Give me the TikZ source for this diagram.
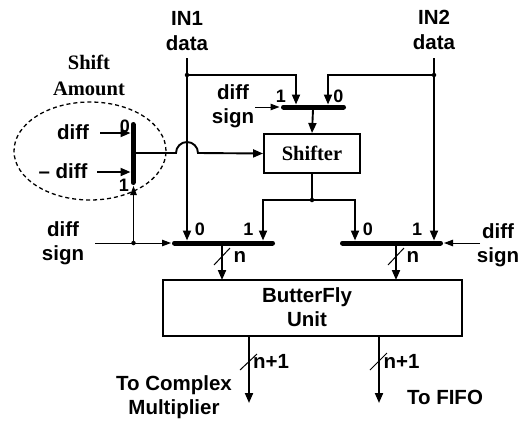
\documentclass[tikz,border=0pt]{standalone}
\usepackage{fontspec}
\setmainfont{Liberation Sans}
\newfontfamily\serifb{Liberation Serif}
\usetikzlibrary{arrows.meta}
\begin{document}
\begin{tikzpicture}[x=1pt,y=-1pt,
  wire/.style={line width=1.9pt},
  thinwire/.style={line width=1pt},
  arr/.style={-{Triangle[length=10pt,width=8pt]}},
  sarr/.style={-{Triangle[length=9pt,width=6.5pt]}},
  bar/.style={line width=5pt, line cap=round},
  lbl/.style={inner sep=0pt, align=center, font=\fontsize{20.5}{24.5}\selectfont\bfseries},
  dig/.style={inner sep=0pt, font=\fontsize{18}{20}\selectfont\bfseries},
  slbl/.style={inner sep=0pt, align=center, font=\fontsize{20.5}{26}\selectfont\serifb\bfseries},
  blk/.style={draw, line width=1.9pt, inner sep=0pt},
  dot/.style={circle, fill, inner sep=0pt, minimum size=4.5pt}
]
\useasboundingbox (0,0) rectangle (527,421);

% ---- labels ----
\node[lbl] (in1) at (187,31) {IN1\\data};
\node[lbl] (in2) at (434,30) {IN2\\data};
\node[slbl] (shamt) at (89,75) {Shift\\Amount};
\node[lbl] (ds1) at (233,106) {diff\\sign};
\node[lbl] (ds2) at (63,243) {diff\\sign};
\node[lbl] (ds3) at (498,245) {diff\\sign};
\node[lbl] (dpos) at (73,132) {diff};
\node[lbl] (dneg) at (63,171) {\textendash\ diff};
\node[lbl] (tocm) at (174,397) {To Complex\\Multiplier};
\node[lbl] (tofifo) at (445,397) {To FIFO};

% ---- blocks ----
\node[blk, minimum width=96pt, minimum height=39pt, font=\fontsize{20.5}{24}\selectfont\serifb\bfseries] (shifter) at (312,153.5) {Shifter};
\node[blk, minimum width=299pt, minimum height=56pt] (bfly) at (312.5,308) {};
\node[lbl] (bflyt) at (307,307) {ButterFly\\Unit};

% ---- mux bars ----
\coordinate (tmL) at (283.5,107); \coordinate (tmR) at (343.5,107);
\coordinate (lmL) at (174.5,243); \coordinate (lmR) at (272.5,243);
\coordinate (rmL) at (342.5,243); \coordinate (rmR) at (440.5,243);
\coordinate (smT) at (133,124.5); \coordinate (smB) at (133,182.5);
\draw[bar] (tmL) -- (tmR);
\draw[bar] (lmL) -- (lmR);
\draw[bar] (rmL) -- (rmR);
\draw[bar] (smT) -- (smB);

\node[dig] (t1) at (281,96) {1};
\node[dig] (t0) at (338.5,96) {0};
\node[dig] (l0) at (200,229) {0};
\node[dig] (l1) at (248.5,229) {1};
\node[dig] (r0) at (368,229) {0};
\node[dig] (r1) at (417,229) {1};
\node[dig] (s0) at (125,126) {0};
\node[dig] (s1) at (124,185) {1};

% ---- dashed ellipse ----
\draw[line width=1.3pt, dash pattern=on 4pt off 3pt] (90,151) ellipse [x radius=76pt, y radius=49pt];

% ---- IN1 / IN2 data paths ----
\coordinate (in1s) at (187,58);
\coordinate (in2s) at (434,58);
\coordinate (j1) at (187,75);
\coordinate (j2) at (434,75);
\node[dot] at (j1) {};
\node[dot] at (j2) {};
\draw[wire, arr] (in1s) -- (187,240.5);
\draw[wire, arr] (in2s) -- (434,240.5);
\draw[wire, arr] (j1) -- (296,75) -- (296,104.5);
\draw[wire, arr] (j2) -- (328,75) -- (328,104.5);

% ---- top mux ----
\draw[thinwire, sarr] (255,107) -- (279.5,107);
\draw[wire, arr] (313,109.5) -- (shifter.north);

% ---- shifter output ----
\coordinate (j3) at (312,200);
\node[dot] at (j3) {};
\draw[wire] (shifter.south) -- (j3);
\draw[wire, arr] (j3) -- (263,200) -- (263,240.5);
\draw[wire, arr] (j3) -- (355,200) -- (355,240.5);

% ---- shift amount mux ----
\draw[wire, arr] (100,133) -- (130.5,133);
\draw[wire, arr] (97,172) -- (130.5,172);
\draw[wire, arr] (135.5,153) -- (176,153) arc[start angle=180, end angle=0, radius=11pt] -- (shifter.west);

% ---- diff sign controls ----
\coordinate (j4) at (133.5,243);
\node[dot] at (j4) {};
\draw[thinwire, sarr] (95,243) -- (171,243);
\draw[thinwire, sarr] (j4) -- (133.5,186);
\draw[thinwire, sarr] (480,243) -- (444,243);

% ---- bus into butterfly ----
\draw[wire, arr] (222,245.5) -- (222,280);
\draw[thinwire] (214,265) -- (230,248);
\node[lbl] (nl) at (240,257) {n};
\draw[wire, arr] (396,245.5) -- (396,280);
\draw[thinwire] (388,265) -- (404,248);
\node[lbl] (nr) at (413,257) {n};

% ---- outputs ----
\draw[wire, arr] (249,336) -- (249,403);
\draw[thinwire] (240,370) -- (257,354);
\node[lbl] (n1l) at (271,361) {n+1};
\draw[wire, arr] (379,336) -- (379,403);
\draw[thinwire] (370,370) -- (387,353);
\node[lbl] (n1r) at (401.5,361) {n+1};
\end{tikzpicture}
\end{document}
